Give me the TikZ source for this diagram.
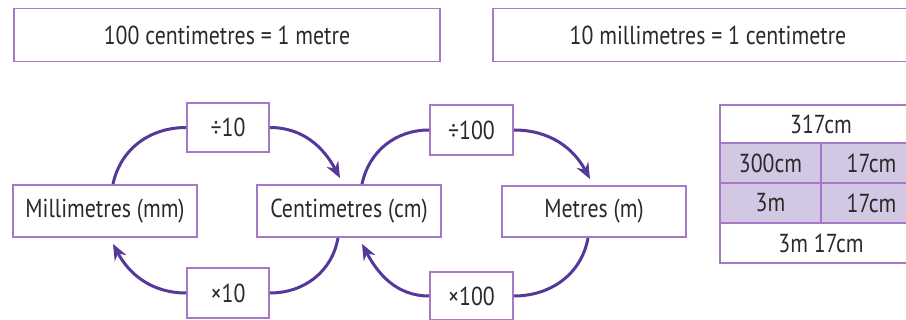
\documentclass[tikz,border=0pt]{standalone}
\usepackage{fontspec}
\setmainfont[FakeStretch=0.84]{PT Sans}
\usetikzlibrary{arrows.meta,calc}
\definecolor{boxc}{HTML}{A878C8}
\definecolor{arrc}{HTML}{55389A}
\definecolor{cellc}{HTML}{D2C8E4}
\definecolor{txt}{HTML}{2A2A2A}
\tikzset{
  box/.style={draw=boxc, line width=1.8pt, fill=white, inner sep=0pt,
    font=\fontsize{26}{30}\selectfont, text=txt},
  cell/.style={box, line width=1.6pt},
  shaded/.style={cell, fill=cellc},
  conv/.style={draw=arrc, line width=3pt},
  convarr/.style={conv, -{Stealth[length=16pt,width=13pt]}}
}
\begin{document}
\begin{tikzpicture}[x=1pt,y=-1pt]
\useasboundingbox (0,0) rectangle (906,320);
\clip (0,0) rectangle (906,320);
% top boxes
\node[box, minimum width=426pt, minimum height=53pt] (topl) at (227,35) {100 centimetres = 1 metre};
\node[box, minimum width=430pt, minimum height=53pt] (topr) at (708,35) {10 millimetres = 1 centimetre};
% unit boxes
\node[box, minimum width=184pt, minimum height=52pt] (mm) at (105,211) {Millimetres (mm)};
\node[box, minimum width=184pt, minimum height=52pt] (cm) at (349,211) {Centimetres (cm)};
\node[box, minimum width=184pt, minimum height=51pt] (m) at (594,211.5) {Metres (m)};
% operation boxes
\node[box, minimum width=82pt, minimum height=49pt] (d10) at (228,127.5) {÷10};
\node[box, minimum width=82pt, minimum height=50pt] (t10) at (228,293) {×10};
\node[box, minimum width=83pt, minimum height=50pt] (d100) at (471.5,130) {÷100};
\node[box, minimum width=83pt, minimum height=48pt] (t100) at (471.5,296) {×100};
% arrows
\draw[conv] ([xshift=8pt]mm.north) to[out=78,in=180] (d10.west);
\draw[convarr] (d10.east) to[out=0,in=118] ([xshift=-9pt,yshift=6pt]cm.north);
\draw[conv] ([xshift=13pt]cm.north) to[out=78,in=180] (d100.west);
\draw[convarr] (d100.east) to[out=0,in=118] ([xshift=-4pt,yshift=6pt]m.north);
\draw[conv] ([xshift=-6pt]m.south) to[out=-100,in=0] (t100.east);
\draw[convarr] (t100.west) to[out=180,in=-62] ([xshift=13pt,yshift=-6pt]cm.south);
\draw[conv] ([xshift=-11pt]cm.south) to[out=-100,in=0] (t10.east);
\draw[convarr] (t10.west) to[out=180,in=-62] ([xshift=8pt,yshift=-6pt]mm.south);
% table
\node[cell, minimum width=202pt, minimum height=38pt] (r1) at (821,124) {317cm};
\node[shaded, minimum width=101pt, minimum height=40pt] (r2a) at (770.5,163) {300cm};
\node[shaded, minimum width=101pt, minimum height=40pt] (r2b) at (871.5,163) {17cm};
\node[shaded, minimum width=101pt, minimum height=40pt] (r3a) at (770.5,203) {3m};
\node[shaded, minimum width=101pt, minimum height=40pt] (r3b) at (871.5,203) {17cm};
\node[cell, minimum width=202pt, minimum height=40pt] (r4) at (821,243) {3m 17cm};
\end{tikzpicture}
\end{document}
